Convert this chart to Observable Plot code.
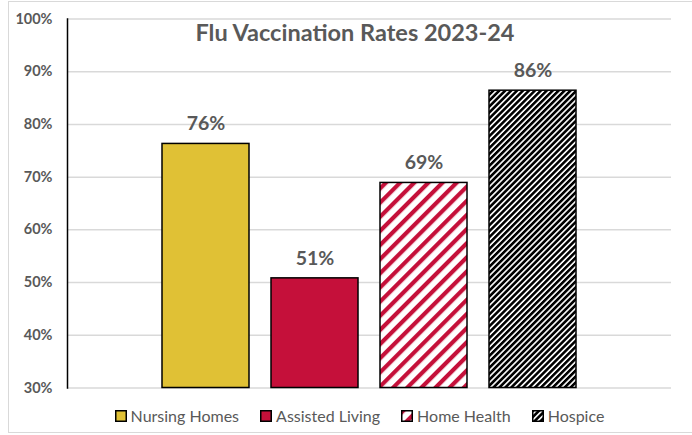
<!DOCTYPE html>
<html>
<head>
<meta charset="utf-8">
<script src="https://cdn.jsdelivr.net/npm/d3@7"></script>
<script src="https://cdn.jsdelivr.net/npm/@observablehq/plot@0.6"></script>
<style>
  body { margin: 0; background: #fff; font-family: Lato, "Open Sans", sans-serif; }
  #wrap { position: relative; width: 692px; height: 435px; overflow: hidden; }
  #border { position: absolute; left: 8px; top: 1px; width: 700px; height: 432px; border: 1px solid #d9d9d9; box-sizing: border-box; }
  #chart { position: absolute; left: 0; top: 0; }
  #title { position: absolute; top: 18px; left: 355px; transform: translateX(-50%); font-size: 23.5px; font-weight: 700; color: #595959; white-space: nowrap; }
  #legend { position: absolute; top: 406px; left: 0; width: 692px; display: flex; justify-content: center; padding-left: 27px; box-sizing: border-box; gap: 21px; font-size: 16px; color: #595959; }
  #legend .item { display: flex; align-items: center; gap: 4px; }
  #legend svg { display: block; }
</style>
</head>
<body>
<div id="wrap">
  <div id="border"></div>
  <div id="chart"></div>
  <div id="title">Flu Vaccination Rates 2023-24</div>
  <div id="legend"></div>
</div>
<script>
// ---- data ----
const categories = ["Nursing Homes", "Assisted Living", "Home Health", "Hospice"];
const rates = [76.3, 50.8, 68.9, 86.4];
const rateLabels = ["76%", "51%", "69%", "86%"];
const yTicks = [30, 40, 50, 60, 70, 80, 90, 100];

// ---- styles ----
const fills = ["#E0C135", "#C5103A", "url(#patHH)", "url(#patHS)"];

const data = categories.map((c, i) => ({category: c, rate: rates[i], label: rateLabels[i]}));

function addPatterns(svgSel, suffix) {
  const defs = svgSel.insert("defs", ":first-child");
  const p1 = defs.append("pattern").attr("id", "patHH" + suffix)
    .attr("patternUnits", "userSpaceOnUse").attr("width", 10).attr("height", 10)
    .attr("patternTransform", "rotate(45)");
  p1.append("rect").attr("width", 10).attr("height", 10).attr("fill", "#fff");
  p1.append("rect").attr("width", 4.2).attr("height", 10).attr("fill", "#C5103A");
  const p2 = defs.append("pattern").attr("id", "patHS" + suffix)
    .attr("patternUnits", "userSpaceOnUse").attr("width", 4.2).attr("height", 10)
    .attr("patternTransform", "rotate(45)");
  p2.append("rect").attr("width", 4.2).attr("height", 10).attr("fill", "#fff");
  p2.append("rect").attr("width", 2.6).attr("height", 10).attr("fill", "#000");
}

const plot = Plot.plot({
  width: 692,
  height: 400,
  marginLeft: 67,
  marginRight: 21,
  marginTop: 18.5,
  marginBottom: 12.5,
  style: {fontFamily: "Lato, 'Open Sans', sans-serif", background: "transparent"},
  x: {domain: categories, paddingInner: 0.2, paddingOuter: 0.86, axis: null},
  y: {domain: [30, 100], ticks: yTicks},
  color: {domain: categories, range: fills},
  marks: [
    Plot.gridY(yTicks, {stroke: "#d9d9d9", strokeOpacity: 1, strokeWidth: 1.5}),
    Plot.axisY(yTicks, {tickSize: 0, tickPadding: 15, tickFormat: d => d + "%", fontWeight: "bold", fontSize: 14.5, fill: "#595959", label: null}),
    Plot.barY(data, {x: "category", y1: 30, y2: "rate", fill: "category", stroke: "#000", strokeWidth: 1.5}),
    Plot.text(data, {x: "category", y: "rate", text: "label", dy: -20, fontWeight: "bold", fontSize: 19.5, fill: "#595959"}),
    Plot.frame({anchor: "left", stroke: "#000", strokeWidth: 1.5})
  ]
});
addPatterns(d3.select(plot), "");
document.getElementById("chart").appendChild(plot);

// legend
const legend = d3.select("#legend");
categories.forEach((c, i) => {
  const item = legend.append("div").attr("class", "item");
  const sw = item.append("svg").attr("width", 12).attr("height", 12);
  addPatterns(sw, "L" + i);
  const f = fills[i].replace(")", "L" + i + ")");
  sw.append("rect").attr("x", 0.75).attr("y", 0.75).attr("width", 10.5).attr("height", 10.5)
    .attr("fill", fills[i].startsWith("url") ? f : fills[i]).attr("stroke", "#000").attr("stroke-width", 1.5);
  item.append("span").text(c);
});
</script>
</body>
</html>
